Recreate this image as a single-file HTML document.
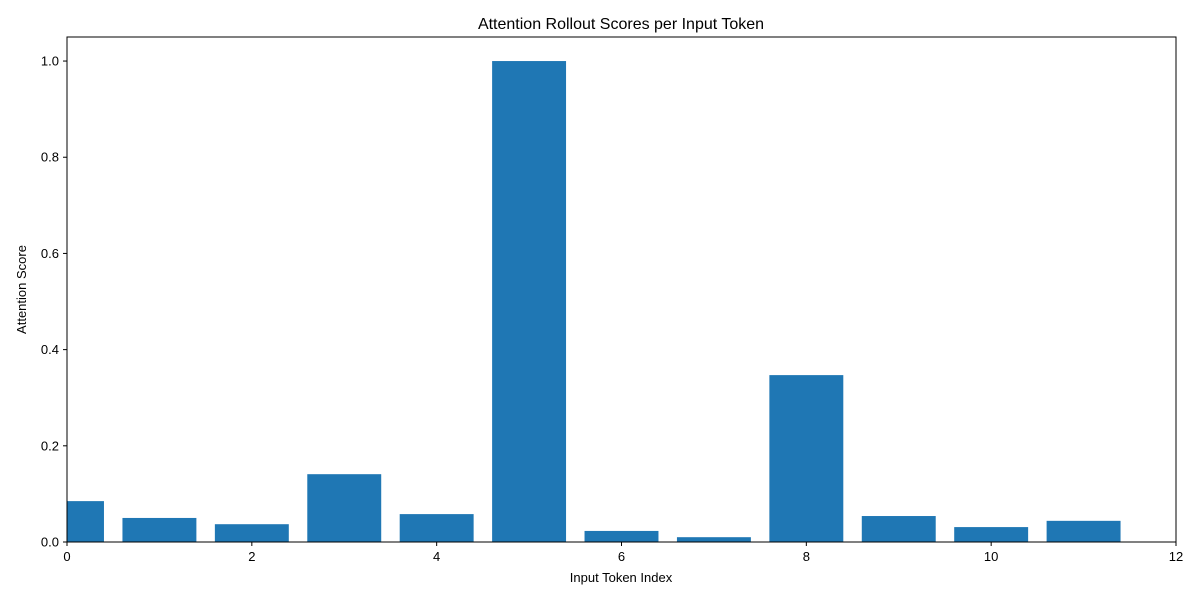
<!DOCTYPE html>
<html><head><meta charset="utf-8"><style>
body{margin:0;background:#fff;}
svg text{font-family:"Liberation Sans","DejaVu Sans",sans-serif;fill:#000;}
</style></head><body>
<svg id="chart" width="1200" height="600" xmlns="http://www.w3.org/2000/svg">
<defs><clipPath id="plotclip"><rect x="67" y="37" width="1109" height="505"/></clipPath></defs>
<text x="621" y="29" font-size="16" text-anchor="middle">Attention Rollout Scores per Input Token</text>
<g id="bars" clip-path="url(#plotclip)"></g>
<g id="axes"></g>
<text x="621" y="582" font-size="13" text-anchor="middle">Input Token Index</text>
<text transform="translate(26,289.5) rotate(-90)" font-size="13" text-anchor="middle">Attention Score</text>
</svg>
<script>
const categories = [0,1,2,3,4,5,6,7,8,9,10,11];
const scores = [0.085,0.050,0.037,0.141,0.058,1.0,0.023,0.010,0.347,0.054,0.031,0.044];
const xTicks = [0,2,4,6,8,10,12];
const yTicks = [0.0,0.2,0.4,0.6,0.8,1.0];

const L=67,R=1176,T=37,B=542;
const xMin=0,xMax=12,yMin=0,yMax=1.05;
function xs(v){return L+(v-xMin)/(xMax-xMin)*(R-L);}
function ys(v){return B-(v-yMin)/(yMax-yMin)*(B-T);}
const NS="http://www.w3.org/2000/svg";
const bars=document.getElementById('bars');
categories.forEach((c,i)=>{
  const r=document.createElementNS(NS,'rect');
  r.setAttribute('x',xs(c-0.4));
  r.setAttribute('width',xs(c+0.4)-xs(c-0.4));
  r.setAttribute('y',ys(scores[i]));
  r.setAttribute('height',ys(0)-ys(scores[i]));
  r.setAttribute('fill','#1f77b4');
  
  
  bars.appendChild(r);
});
const axes=document.getElementById('axes');
const frame=document.createElementNS(NS,'rect');
frame.setAttribute('x',L);frame.setAttribute('y',T);
frame.setAttribute('width',R-L);frame.setAttribute('height',B-T);
frame.setAttribute('fill','none');frame.setAttribute('stroke','#000');frame.setAttribute('stroke-width','1');


axes.appendChild(frame);
xTicks.forEach(t=>{
  const x=xs(t);
  const l=document.createElementNS(NS,'line');
  l.setAttribute('x1',x);l.setAttribute('x2',x);l.setAttribute('y1',B);l.setAttribute('y2',B+4);
  l.setAttribute('stroke','#000');
  
  
  axes.appendChild(l);
  const tx=document.createElementNS(NS,'text');
  tx.setAttribute('x',x);tx.setAttribute('y',B+19);tx.setAttribute('font-size','13');tx.setAttribute('text-anchor','middle');
  tx.textContent=t;
  
  
  axes.appendChild(tx);
});
yTicks.forEach(t=>{
  const y=ys(t);
  const l=document.createElementNS(NS,'line');
  l.setAttribute('x1',L-4);l.setAttribute('x2',L);l.setAttribute('y1',y);l.setAttribute('y2',y);
  l.setAttribute('stroke','#000');
  
  
  axes.appendChild(l);
  const tx=document.createElementNS(NS,'text');
  tx.setAttribute('x',L-8);tx.setAttribute('y',y+4.5);tx.setAttribute('font-size','13');tx.setAttribute('text-anchor','end');
  tx.textContent=t.toFixed(1);
  
  
  axes.appendChild(tx);
});
</script>
</body></html>
